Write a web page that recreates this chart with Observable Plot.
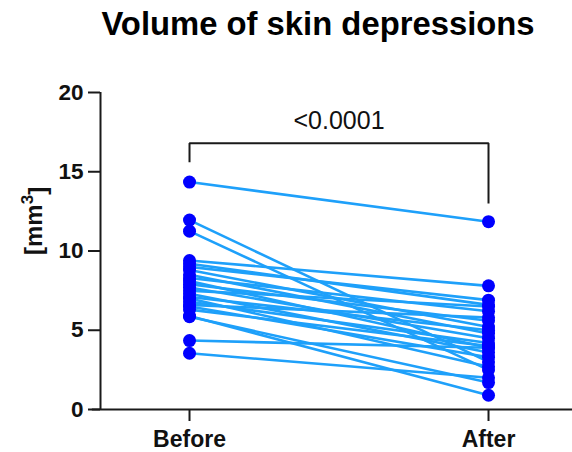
<!DOCTYPE html>
<html>
<head>
<meta charset="utf-8">
<script src="https://cdn.jsdelivr.net/npm/d3@7"></script>
<script src="https://cdn.jsdelivr.net/npm/@observablehq/plot@0.6"></script>
<style>
  body { margin: 0; background: #fff; font-family: "Liberation Sans", Arial, sans-serif; }
  #wrap { width: 572px; height: 452px; overflow: hidden; }
  #title { height: 48px; line-height: 48px; padding-bottom: 12px; font-weight: bold; font-size: 32.8px; text-align: center; padding-left: 64px; color: #000; white-space: nowrap; }
</style>
</head>
<body>
<div id="wrap">
  <div id="title">Volume of skin depressions</div>
  <div id="chart"></div>
</div>
<script>
const groups = ["Before", "After"];
const yTicks = [0, 5, 10, 15, 20];
const yLabelBase = "[mm";
const yLabelSup = "3";
const yLabelEnd = "]";
const pLabel = "<0.0001";
const beforeValues = [14.35, 11.95, 11.25, 9.4, 9.2, 9.0, 8.8, 8.5, 8.3, 8.1, 7.9, 7.7, 7.5, 7.3, 7.1, 7.0, 6.8, 6.6, 6.5, 6.3, 5.9, 5.85, 4.35, 3.55];
const afterValues  = [11.85, 3.0, 2.5, 7.8, 6.6, 6.9, 5.2, 4.8, 6.2, 3.9, 5.6, 4.5, 6.5, 3.6, 5.0, 2.7, 4.2, 5.8, 3.3, 4.0, 0.9, 1.7, 3.9, 2.0];
const bracketX = [0, 0, 1, 1];
const bracketY = [15.6, 16.8, 16.8, 13.0];
const pLabelY = 18.2;

const rows = [];
beforeValues.forEach((v, i) => {
  rows.push({id: i, t: 0, v});
  rows.push({id: i, t: 1, v: afterValues[i]});
});
const bracket = bracketX.map((x, i) => ({x, y: bracketY[i]}));

const font = '"Liberation Sans", Arial, sans-serif';
const axisColor = "#1a1a1a";

const chart = Plot.plot({
  width: 572,
  height: 392,
  marginLeft: 100,
  marginRight: 0,
  marginTop: 32,
  marginBottom: 43,
  style: {fontFamily: font, background: "#fff", overflow: "visible"},
  x: {domain: [-0.2977, 1.2809], axis: null},
  y: {domain: [0, 20], axis: null},
  marks: [
    Plot.line(rows, {x: "t", y: "v", z: "id", stroke: "#1EA0FA", strokeWidth: 2.6}),
    Plot.dot(rows, {x: "t", y: "v", r: 6.5, fill: "#0000FF", stroke: "none"}),
    Plot.line(bracket, {x: "x", y: "y", stroke: axisColor, strokeWidth: 2, strokeLinejoin: "miter", strokeLinecap: "butt"}),
    Plot.text([pLabel], {x: 0.5, y: pLabelY, text: d => d, fontSize: 25, fill: "#111", fontFamily: font}),
    Plot.ruleY([0], {x1: -0.325, x2: 1.2809, stroke: axisColor, strokeWidth: 2}),
    Plot.ruleX([-0.2977], {y1: 0, y2: 20, stroke: axisColor, strokeWidth: 2}),
    Plot.axisY({ticks: yTicks, tickSize: 12, tickPadding: 5, fontSize: 22.5, fontWeight: "bold", stroke: axisColor, strokeWidth: 2, color: "#111", label: null}),
    Plot.axisX({ticks: [0, 1], tickFormat: i => groups[i], tickSize: 12, tickPadding: 9, fontSize: 23, fontWeight: "bold", stroke: axisColor, strokeWidth: 2, color: "#111", label: null}),
    Plot.text([yLabelBase], {frameAnchor: "left", dx: -66, dy: 4, rotate: -90, text: d => d, fontSize: 24, fontWeight: "bold", fill: "#111", fontFamily: font, className: "ylabel"})
  ]
});
// rebuild the y label with a real superscript
const lab = chart.querySelector(".ylabel text");
if (lab) {
  lab.textContent = "";
  const ns = "http://www.w3.org/2000/svg";
  const t1 = document.createElementNS(ns, "tspan"); t1.textContent = yLabelBase;
  const t2 = document.createElementNS(ns, "tspan"); t2.textContent = yLabelSup;
  t2.setAttribute("font-size", "17"); t2.setAttribute("dy", "-0.55em");
  const t3 = document.createElementNS(ns, "tspan"); t3.textContent = yLabelEnd;
  t3.setAttribute("dy", "0.55em");
  lab.append(t1, t2, t3);
}
document.getElementById("chart").appendChild(chart);
</script>
</body>
</html>
